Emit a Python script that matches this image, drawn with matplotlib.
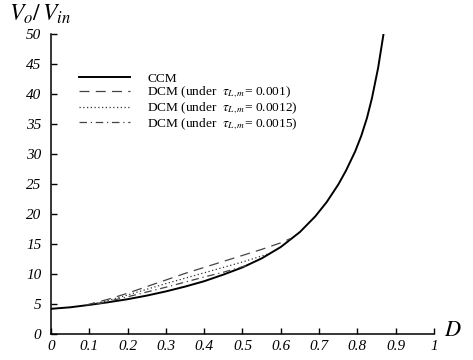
import matplotlib
matplotlib.use("Agg")
import matplotlib.pyplot as plt
from matplotlib.ticker import FixedLocator, FuncFormatter

# ---- data ----
ccm_d = [0.0, 0.05, 0.1, 0.15, 0.2, 0.25, 0.3, 0.35, 0.4, 0.45, 0.5, 0.55,
         0.6, 0.65, 0.69, 0.72, 0.75, 0.77, 0.794, 0.81, 0.825, 0.838,
         0.854, 0.868]
ccm_v = [4.2, 4.45, 4.85, 5.3, 5.8, 6.4, 7.1, 7.9, 8.8, 9.9, 11.1, 12.6,
         14.5, 17.0, 19.6, 22.0, 24.9, 27.2, 30.4, 33.0, 36.0, 39.3,
         44.3, 49.9]

dcm1_d = [0.09, 0.15, 0.2, 0.25, 0.3, 0.35, 0.4, 0.45, 0.5, 0.55, 0.6, 0.625]
dcm1_v = [4.8, 5.8, 6.8, 7.9, 9.0, 10.1, 11.1, 12.1, 13.1, 14.1, 15.2, 15.9]

dcm2_d = [0.1, 0.15, 0.2, 0.25, 0.3, 0.35, 0.4, 0.45, 0.5, 0.57]
dcm2_v = [4.85, 5.6, 6.5, 7.45, 8.4, 9.3, 10.2, 11.1, 12.0, 13.4]

dcm3_d = [0.12, 0.2, 0.25, 0.3, 0.35, 0.4, 0.45, 0.51]
dcm3_v = [5.0, 6.2, 7.0, 7.8, 8.65, 9.5, 10.3, 11.4]

labels = ["CCM",
          r"DCM (under  $\tau_{L,m}$= 0.001)",
          r"DCM (under  $\tau_{L,m}$= 0.0012)",
          r"DCM (under  $\tau_{L,m}$= 0.0015)"]

x_ticks = [0, 0.1, 0.2, 0.3, 0.4, 0.5, 0.6, 0.7, 0.8, 0.9, 1.0]
y_ticks = [0, 5, 10, 15, 20, 25, 30, 35, 40, 45, 50]

plt.rcParams.update({
    "font.family": ["Liberation Serif", "DejaVu Serif"],
    "mathtext.fontset": "stix",
})

fig = plt.figure(figsize=(4.73, 3.6), dpi=100)
ax = fig.add_axes([0.1078, 0.0722, 0.8097, 0.8333])

ax.plot(ccm_d, ccm_v, color="black", lw=1.4, ls="-", label=labels[0])
ax.plot(dcm1_d, dcm1_v, color="#444444", lw=0.9, ls=(0, (8, 5)), label=labels[1])
ax.plot(dcm2_d, dcm2_v, color="#333333", lw=0.9, ls=(0, (1, 2)), label=labels[2])
ax.plot(dcm3_d, dcm3_v, color="#444444", lw=0.9, ls=(0, (6, 3, 1, 3)), label=labels[3])

ax.set_xlim(0, 1)
ax.set_ylim(0, 50)
for side in ("top", "right"):
    ax.spines[side].set_visible(False)
for side in ("left", "bottom"):
    ax.spines[side].set_linewidth(1.1)

ax.xaxis.set_major_locator(FixedLocator(x_ticks))
ax.yaxis.set_major_locator(FixedLocator(y_ticks))
ax.xaxis.set_major_formatter(FuncFormatter(lambda v, p: "%g" % v))
ax.tick_params(axis="both", direction="in", length=4, width=1.0,
               labelsize=11)
ax.tick_params(axis="x", pad=4)
ax.tick_params(axis="y", pad=7)
for lab in ax.get_xticklabels() + ax.get_yticklabels():
    lab.set_fontstyle("italic")

ax.legend(loc="upper left", bbox_to_anchor=(0.06, 0.89), frameon=False,
          fontsize=9.6, handlelength=3.8, handletextpad=1.3, labelspacing=0.0,
          borderaxespad=0)

fig.text(9 / 473, 1 - 14 / 360, r"$V_o/\,V_{in}$", fontsize=17,
         ha="left", va="center")
fig.text(444 / 473, 1 - 332 / 360, r"$D$", fontsize=16,
         ha="left", va="center")

fig.savefig("out.png", dpi=100)
